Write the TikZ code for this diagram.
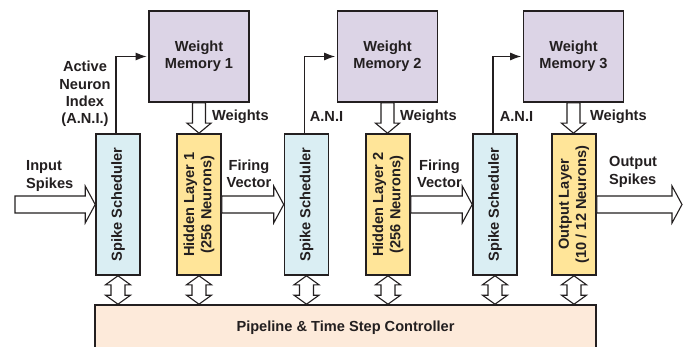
\documentclass[tikz,border=0pt]{standalone}
\usepackage{fontspec}
\setmainfont{Liberation Sans}
\usetikzlibrary{arrows.meta,calc}
\definecolor{memc}{RGB}{220,212,230}
\definecolor{schc}{RGB}{218,238,243}
\definecolor{hidc}{RGB}{255,229,153}
\definecolor{ctlc}{RGB}{253,234,218}
\definecolor{txt}{RGB}{35,31,32}
\newcommand\hblock[2]{\draw[blk] let \p1=(#1), \p2=(#2) in
  (\x1,\y1+8.5pt) -- (\x2-10pt,\y1+8.5pt) -- (\x2-10pt,\y1+18.5pt) -- (\x2,\y1)
  -- (\x2-10pt,\y1-18.5pt) -- (\x2-10pt,\y1-8.5pt) -- (\x1,\y1-8.5pt) -- cycle;}
\newcommand\vblock[2]{\draw[blk] let \p1=(#1), \p2=(#2) in
  (\x1-6.5pt,\y1) -- (\x1-6.5pt,\y2+10pt) -- (\x1-12pt,\y2+10pt) -- (\x1,\y2)
  -- (\x1+12pt,\y2+10pt) -- (\x1+6.5pt,\y2+10pt) -- (\x1+6.5pt,\y1) -- cycle;}
\newcommand\bblock[2]{\draw[blk] let \p1=(#1), \p2=(#2) in
  (\x1,\y1) -- (\x1+12.5pt,\y1-9pt) -- (\x1+7pt,\y1-9pt) -- (\x1+7pt,\y2+9pt)
  -- (\x1+12.5pt,\y2+9pt) -- (\x1,\y2) -- (\x1-12.5pt,\y2+9pt) -- (\x1-7pt,\y2+9pt)
  -- (\x1-7pt,\y1-9pt) -- (\x1-12.5pt,\y1-9pt) -- cycle;}
\begin{document}
\begin{tikzpicture}[x=1pt,y=-1pt,
  every node/.style={font=\fontsize{14.6}{17.2}\selectfont\bfseries, text=txt},
  box/.style={draw=txt, line width=1.6pt, inner sep=0pt, align=center},
  mem/.style={box, fill=memc, minimum width=100pt, minimum height=91pt},
  sched/.style={box, fill=schc, minimum width=44pt, minimum height=141pt},
  hid/.style={box, fill=hidc, minimum width=44pt, minimum height=141pt},
  ctl/.style={box, fill=ctlc, minimum width=501pt, minimum height=46pt},
  blk/.style={draw=txt, fill=white, line width=1.1pt, line join=miter},
  lbl/.style={inner sep=0pt, align=center},
  lbll/.style={inner sep=0pt, align=left, anchor=west},
  rlbl/.style={inner sep=0pt, align=center, rotate=90},
  ani/.style={draw=txt, line width=1.3pt, -{Latex[length=11pt,width=8pt]}, shorten >=1.5pt}]
\useasboundingbox (0,0) rectangle (690,347);
\fill[white] (0,0) rectangle (690,347);

% memories
\node[mem] (wm1) at (199,56.5) {Weight\\Memory 1};
\node[mem] (wm2) at (387.5,56.5) {Weight\\Memory 2};
\node[mem] (wm3) at (573.5,56.5) {Weight\\Memory 3};

% schedulers and layers
\node[sched] (ss1) at (118,204.5) {};
\node[sched] (ss2) at (306.5,204.5) {};
\node[sched] (ss3) at (495,204.5) {};
\node[hid] (hl1) at (199,204.5) {};
\node[hid] (hl2) at (388,204.5) {};
\node[hid] (hl3) at (574,204.5) {};
\node[rlbl] (ss1t) at (ss1) {Spike Scheduler};
\node[rlbl] (ss2t) at (ss2) {Spike Scheduler};
\node[rlbl] (ss3t) at (ss3) {Spike Scheduler};
\node[rlbl] (hl1t) at (hl1) {Hidden Layer 1\\(256 Neurons)};
\node[rlbl] (hl2t) at (hl2) {Hidden Layer 2\\(256 Neurons)};
\node[rlbl] (hl3t) at (hl3) {Output Layer\\(10 / 12 Neurons)};

% controller
\node[ctl] (ctl) at (345.5,328) {Pipeline \& Time Step Controller};

% free ends
\coordinate (in) at (15,204.5);
\coordinate (out) at (682,204.5);

% block arrows
\hblock{in}{ss1.west}
\hblock{hl1.east}{ss2.west}
\hblock{hl2.east}{ss3.west}
\hblock{hl3.east}{out}
\vblock{wm1.south}{hl1.north}
\vblock{wm2.south}{hl2.north}
\vblock{wm3.south}{hl3.north}
\bblock{ss1.south}{ss1.south |- ctl.north}
\bblock{hl1.south}{hl1.south |- ctl.north}
\bblock{ss2.south}{ss2.south |- ctl.north}
\bblock{hl2.south}{hl2.south |- ctl.north}
\bblock{ss3.south}{ss3.south |- ctl.north}
\bblock{hl3.south}{hl3.south |- ctl.north}

% ANI arrows
\draw[ani] ($(ss1.north)+(-2,0)$) |- (wm1.west);
\draw[ani] ($(ss2.north)+(-2,0)$) |- (wm2.west);
\draw[ani] ($(ss3.north)+(-2,0)$) |- (wm3.west);

% labels
\node[lbll] (linp) at (26,176) {Input\\Spikes};
\node[lbl] (lani1) at (85,94) {Active\\Neuron\\Index\\(A.N.I.)};
\node[lbl] (lani2) at (326.5,116) {A.N.I};
\node[lbl] (lani3) at (516.5,116) {A.N.I};
\node[lbll] (lw1) at (212,117) {Weights};
\node[lbll] (lw2) at (400,117) {Weights};
\node[lbll] (lw3) at (590,117) {Weights};
\node[lbl] (lfv1) at (249,174) {Firing\\Vector};
\node[lbl] (lfv2) at (439.5,174) {Firing\\Vector};
\node[lbll] (lout) at (609,172) {Output\\Spikes};
\end{tikzpicture}
\end{document}
